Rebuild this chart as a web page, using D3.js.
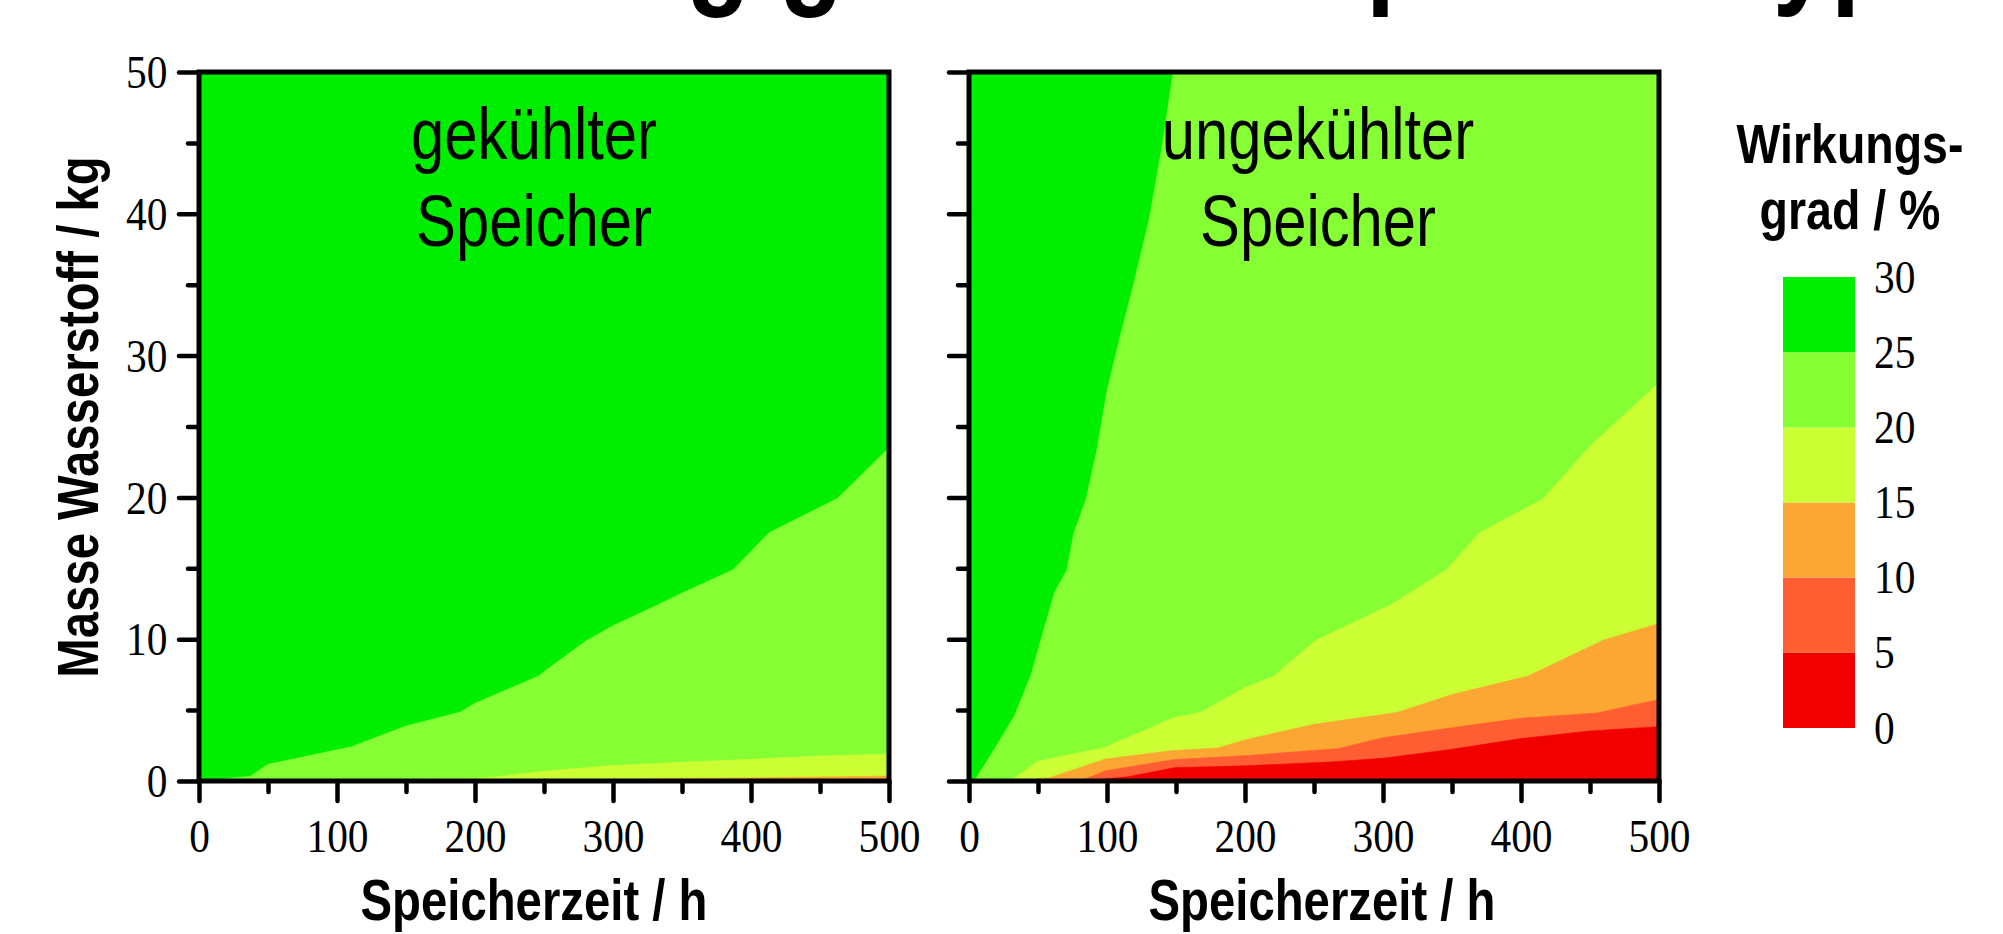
<!DOCTYPE html>
<html>
<head>
<meta charset="utf-8">
<script src="https://cdn.jsdelivr.net/npm/d3@7"></script>
<style>
  html, body { margin: 0; padding: 0; background: #ffffff; }
  svg { display: block; }
</style>
</head>
<body>
<svg id="chart" width="2003" height="934"></svg>
<script>
// Efficiency bands (%): band i spans bandEdges[i]..bandEdges[i+1]
const bandEdges  = [0, 5, 10, 15, 20, 25, 30];
const bandColors = ["#f20000", "#ff5e33", "#fca633", "#ccff33", "#85ff33", "#00ee00"];
const legendTicks = [0, 5, 10, 15, 20, 25, 30];

const xTicks      = [0, 100, 200, 300, 400, 500];
const xMinorTicks = [50, 150, 250, 350, 450];
const yTicks      = [0, 10, 20, 30, 40, 50];
const yMinorTicks = [5, 15, 25, 35, 45];

// Iso-efficiency lines: [storage time h, hydrogen mass kg].
// Below each line the efficiency falls under the given level.
const cooled25 = [[0,0],[37,0.32],[50,1.18],[100,2.2],[110,2.4],[150,3.88],[189,4.85],[200,5.48],[246,7.4],[252,7.85],[280,9.85],[300,10.95],[333,12.45],[350,13.25],[387,14.9],[413,17.5],[463,19.95],[500,23.5]];
const cooled20 = [[0,0],[50,0.05],[100,0.08],[150,0.12],[200,0.2],[216,0.29],[251,0.7],[300,1.1],[350,1.33],[400,1.53],[450,1.77],[500,1.9]];
const cooled15 = [[0,0],[150,0],[250,0.06],[300,0.12],[400,0.22],[500,0.35]];
const cooled10 = [[0,0],[300,0],[400,0.05],[500,0.12]];
const cooled5  = [[0,0],[500,0.02]];

const uncooled25 = [[0,0],[5,0.17],[20,2.5],[33,4.6],[45,7.5],[52,9.9],[62,13.3],[71,14.9],[76,17.5],[85,19.9],[93,23.5],[100,27.5],[110,31.5],[120,35.3],[131,39.8],[140,44.8],[148,50],[500,50]];
const uncooled20 = [[0,0],[30,0],[50,1.4],[70,1.8],[98,2.35],[148,4.45],[168,4.85],[200,6.6],[221,7.4],[251,9.9],[307,12.5],[346,14.9],[370,17.5],[416,19.9],[450,23.6],[500,28.1]];
const uncooled15 = [[0,0],[32,0],[58,0.22],[99,1.56],[148,2.15],[180,2.33],[200,2.9],[250,4],[310,4.83],[350,6.1],[405,7.4],[460,9.95],[500,11.1]];
const uncooled10 = [[0,0],[57,0],[84,0.12],[99,0.72],[148,1.5],[202,1.8],[267,2.28],[300,3.05],[351,3.77],[400,4.42],[455,4.8],[500,5.75]];
const uncooled5  = [[0,0],[84,0],[116,0.31],[149,0.94],[200,1.07],[262,1.34],[300,1.6],[349,2.22],[400,2.99],[450,3.53],[500,3.83]];

const chartTitle = "Abhängigkeit vom Speichertyp";
const panelLabels = [["gekühlter", "Speicher"], ["ungekühlter", "Speicher"]];
const xTitle = "Speicherzeit / h";
const yTitle = "Masse Wasserstoff / kg";
const legendTitle = ["Wirkungs-", "grad / %"];

// ---- layout ----
const SERIF = "'Liberation Serif', 'Times New Roman', serif";
const SANS  = "'Liberation Sans', Arial, sans-serif";
const plotW = 690, plotH = 709, plotTop = 72;
const panels = [
  { left: 199, label: panelLabels[0], labelX: 335, xTitleX: 335, yLabels: true,
    lines: [[25, cooled25], [20, cooled20], [15, cooled15], [10, cooled10], [5, cooled5]] },
  { left: 969, label: panelLabels[1], labelX: 349, xTitleX: 353, yLabels: false,
    lines: [[25, uncooled25], [20, uncooled20], [15, uncooled15], [10, uncooled10], [5, uncooled5]] }
];

const svg = d3.select("#chart");
const x = d3.scaleLinear().domain([0, 500]).range([0, plotW]);
const y = d3.scaleLinear().domain([0, 50]).range([plotH, 0]).clamp(true);
const bandColor = lvl => bandColors[bandEdges.indexOf(lvl) - 1];

const area = d3.area()
  .x(d => x(d[0]))
  .y0(plotH)
  .y1(d => y(d[1]));

function condensed(sel, px, py, sx, extra) {
  sel.attr("transform", `translate(${px},${py})${extra || ""} scale(${sx},1)`);
}

// title line above the page edge: only its descenders reach into view
svg.append("text").text(chartTitle)
  .attr("font-family", SANS).attr("font-weight", "bold").attr("font-size", 126)
  .call(condensed, 361, -9, 0.83);

panels.forEach((p, i) => {
  const g = svg.append("g").attr("transform", `translate(${p.left},${plotTop})`);

  g.append("clipPath").attr("id", `clip${i}`)
    .append("rect").attr("width", plotW).attr("height", plotH);

  const fills = g.append("g").attr("clip-path", `url(#clip${i})`);
  // top band fills the whole field, lower bands are painted on top of it
  fills.append("rect").attr("width", plotW).attr("height", plotH)
    .attr("fill", bandColors[bandColors.length - 1]);
  p.lines.forEach(([lvl, pts]) => {
    fills.append("path").datum(pts)
      .attr("d", area)
      .attr("fill", bandColor(lvl))
      .attr("stroke", bandColor(lvl))
      .attr("stroke-width", 0.6);
  });

  // axes: outward ticks on the left and bottom only
  const styleAxis = a => {
    a.select(".domain").remove();
    a.selectAll(".tick line").attr("stroke", "#000").attr("stroke-width", 4.5).attr("stroke-linecap", "round");
  };
  const xAxis = g.append("g").attr("transform", `translate(0,${plotH})`)
    .call(d3.axisBottom(x).tickValues(xTicks).tickSize(20).tickFormat(d3.format("d")))
    .call(styleAxis);
  xAxis.selectAll(".tick text")
    .attr("y", 71).attr("dy", null)
    .attr("font-family", SERIF).attr("font-size", 46).attr("fill", "#000")
    .attr("transform", "scale(0.9,1)");
  g.append("g").attr("transform", `translate(0,${plotH})`)
    .call(d3.axisBottom(x).tickValues(xMinorTicks).tickSize(11).tickFormat(""))
    .call(styleAxis);

  const yAxis = g.append("g")
    .call(d3.axisLeft(y).tickValues(yTicks).tickSize(20)
      .tickFormat(p.yLabels ? d3.format("d") : ""))
    .call(styleAxis);
  yAxis.selectAll(".tick text")
    .attr("x", -35).attr("dy", "0.34em")
    .attr("font-family", SERIF).attr("font-size", 46).attr("fill", "#000")
    .attr("transform", "scale(0.9,1)");
  g.append("g")
    .call(d3.axisLeft(y).tickValues(yMinorTicks).tickSize(11).tickFormat(""))
    .call(styleAxis);

  g.append("rect").attr("width", plotW).attr("height", plotH)
    .attr("fill", "none").attr("stroke", "#000").attr("stroke-width", 5);

  // panel caption
  p.label.forEach((t, k) => {
    g.append("text").text(t)
      .attr("font-family", SANS).attr("font-size", 72).attr("text-anchor", "middle")
      .call(condensed, p.labelX, 87 + k * 87, 0.83);
  });

  // x axis title
  svg.append("text").text(xTitle)
    .attr("font-family", SANS).attr("font-weight", "bold").attr("font-size", 57)
    .attr("text-anchor", "middle")
    .call(condensed, p.left + p.xTitleX, 920, 0.83);
});

// y axis title
svg.append("text").text(yTitle)
  .attr("font-family", SANS).attr("font-weight", "bold").attr("font-size", 57)
  .attr("text-anchor", "middle")
  .call(condensed, 98, 417, 0.83, " rotate(-90)");

// ---- colour legend ----
const ly = d3.scaleLinear().domain([0, 30]).range([728, 277]);
const legend = svg.append("g");
d3.pairs(bandEdges).forEach(([lo, hi], i) => {
  legend.append("rect")
    .attr("x", 1783).attr("width", 72)
    .attr("y", ly(hi)).attr("height", ly(lo) - ly(hi))
    .attr("fill", bandColors[i]);
});
legendTicks.forEach(v => {
  legend.append("text").text(v)
    .attr("font-family", SERIF).attr("font-size", 46).attr("dy", "0.34em")
    .call(condensed, 1874, ly(v), 0.9);
});
legendTitle.forEach((t, k) => {
  legend.append("text").text(t)
    .attr("font-family", SANS).attr("font-weight", "bold").attr("font-size", 56)
    .attr("text-anchor", "middle")
    .call(condensed, 1850, 163 + k * 66, 0.83);
});
</script>
</body>
</html>
